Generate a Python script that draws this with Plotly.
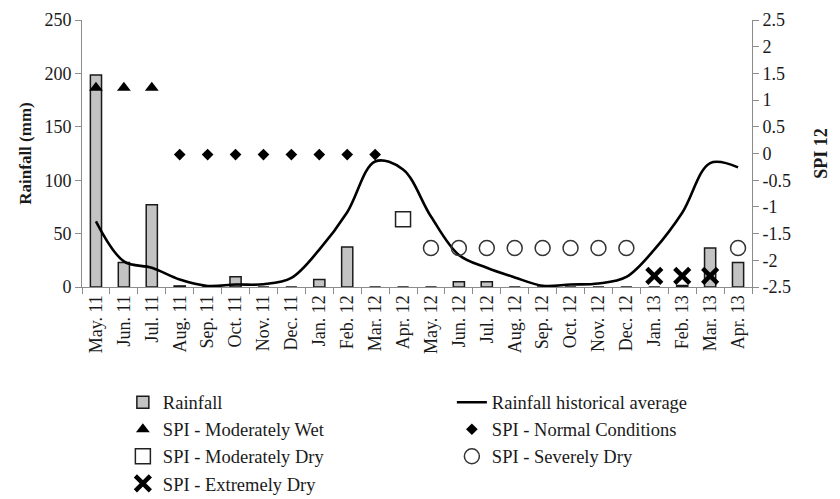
import plotly.graph_objects as go

# Monthly series, May 2011 - April 2013
months = ["May. 11", "Jun. 11", "Jul. 11", "Aug. 11", "Sep. 11", "Oct. 11",
          "Nov. 11", "Dec. 11", "Jan. 12", "Feb. 12", "Mar. 12", "Apr. 12",
          "May. 12", "Jun. 12", "Jul. 12", "Aug. 12", "Sep. 12", "Oct. 12",
          "Nov. 12", "Dec. 12", "Jan. 13", "Feb. 13", "Mar. 13", "Apr. 13"]

# Observed monthly rainfall (mm)
rainfall = [198.5, 23, 77, 1, 0, 9.5, 0, 0, 7, 37.5, 0, 0,
            0, 5, 5, 0, 0, 0, 0, 0, 0, 1.5, 36.5, 23]

# Long-term monthly mean rainfall (mm)
hist_avg = [61.5, 24, 18, 7, 1, 2.3, 2.6, 8.6, 35, 70, 117.5, 110,
            66, 30, 18, 9, 1.2, 2.3, 3.3, 9.5, 35, 69.5, 116, 112]

# 12-month Standardized Precipitation Index
spi = [1.23, 1.23, 1.23, -0.02, -0.02, -0.02, -0.02, -0.02, -0.02, -0.02, -0.02, -1.23,
       -1.77, -1.77, -1.77, -1.77, -1.77, -1.77, -1.77, -1.77, -2.29, -2.29, -2.29, -1.77]

rain_ticks = [0, 50, 100, 150, 200, 250]
spi_ticks = [2.5, 2, 1.5, 1, 0.5, 0, -0.5, -1, -1.5, -2, -2.5]
spi_tick_text = ["2.5", "2", "1.5", "1", "0.5", "0", "-0.5", "-1", "-1.5", "-2", "-2.5"]

# SPI drought classes (McKee et al.)
classes = [
    ("SPI - Moderately Wet", lambda v: 1.0 <= v < 1.5,
     dict(symbol="triangle-up", size=12, color="black")),
    ("SPI - Normal Conditions", lambda v: -1.0 < v < 1.0,
     dict(symbol="diamond", size=9, color="black")),
    ("SPI - Moderately Dry", lambda v: -1.5 < v <= -1.0,
     dict(symbol="square-open", size=15, color="#222", line=dict(width=1.5))),
    ("SPI - Severely Dry", lambda v: -2.0 < v <= -1.5,
     dict(symbol="circle-open", size=15, color="#333", line=dict(width=1.5))),
    ("SPI - Extremely Dry", lambda v: v <= -2.0,
     dict(symbol="x-thin-open", size=15, color="black", line=dict(width=4.5))),
]

SERIF = "Liberation Serif"
AX_COLOR = "#8c8c8c"

fig = go.Figure()

fig.add_trace(go.Bar(
    x=months, y=rainfall, name="Rainfall", width=0.4,
    marker=dict(color="#c3c3c3", line=dict(color="#1a1a1a", width=1.5)),
))

fig.add_trace(go.Scatter(
    x=months, y=hist_avg, name="Rainfall historical average", mode="lines",
    line=dict(color="black", width=2.6, shape="spline", smoothing=1.0),
))

for label, test, mk in classes:
    xs = [m for m, v in zip(months, spi) if test(v)]
    ys = [v for v in spi if test(v)]
    fig.add_trace(go.Scatter(
        x=xs, y=ys, name=label, mode="markers", yaxis="y2", marker=mk,
    ))

axis_common = dict(
    ticks="outside", ticklen=6, tickcolor=AX_COLOR, showline=True,
    linecolor=AX_COLOR, linewidth=1, showgrid=False, zeroline=False,
    tickfont=dict(family=SERIF, size=18), automargin=False,
)

fig.update_layout(
    width=840, height=499,
    margin=dict(l=82, r=88, t=20, b=211.5, autoexpand=False),
    paper_bgcolor="white", plot_bgcolor="white",
    font=dict(family=SERIF, size=18, color="#1a1a1a"),
    showlegend=True,
    xaxis=dict(
        type="category", categoryorder="array", categoryarray=months,
        range=[-0.5, len(months) - 0.5],
        tickangle=-90, tickson="boundaries", **axis_common,
    ),
    yaxis=dict(
        range=[0, 250], tickvals=rain_ticks, **axis_common,
        title=dict(text="<b>Rainfall (mm)</b>", font=dict(family=SERIF, size=17), standoff=8),
    ),
    yaxis2=dict(
        overlaying="y", side="right", range=[-2.5, 2.5],
        tickvals=spi_ticks, ticktext=spi_tick_text, **axis_common,
        title=dict(text="<b>SPI 12</b>", font=dict(family=SERIF, size=18), standoff=24),
    ),
    legend=dict(
        orientation="h", x=0.061, xanchor="left", y=-0.362, yanchor="top",
        entrywidth=284, entrywidthmode="pixels",
        font=dict(family=SERIF, size=18.5, color="#1a1a1a"),
        bgcolor="rgba(0,0,0,0)", traceorder="normal",
    ),
)

fig.write_html("out.html")
